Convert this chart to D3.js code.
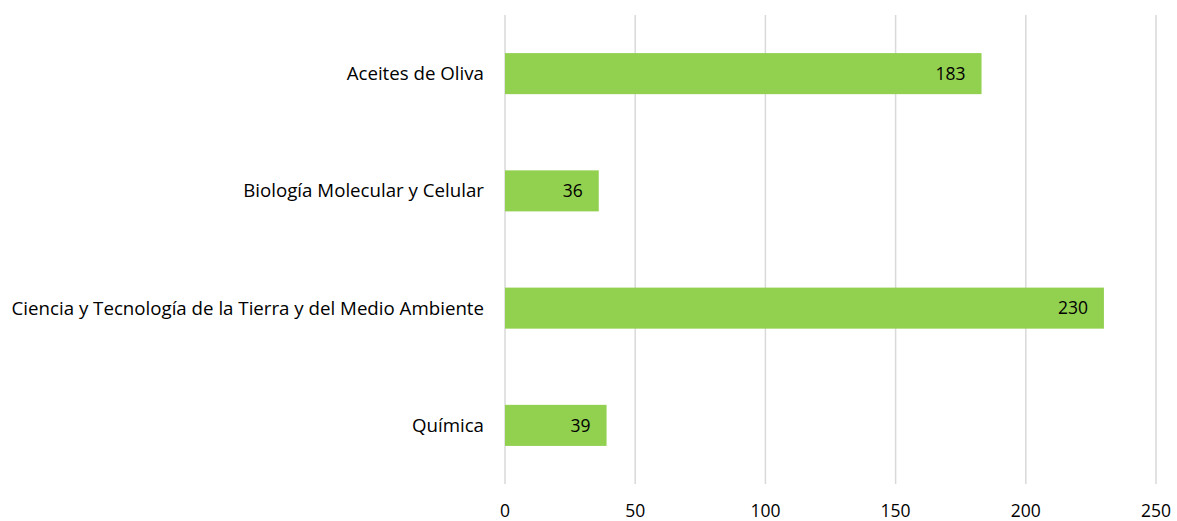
<!DOCTYPE html>
<html>
<head>
<meta charset="utf-8">
<script src="https://cdn.jsdelivr.net/npm/d3@7"></script>
<style>
  body { margin: 0; background: #fff; }
  text { font-family: "Open Sans", "Noto Sans", sans-serif; fill: #000; }
</style>
</head>
<body>
<div id="chart"></div>
<script>
// data
const categories = ["Aceites de Oliva", "Biología Molecular y Celular", "Ciencia y Tecnología de la Tierra y del Medio Ambiente", "Química"];
const values = [183, 36, 230, 39];
const xTicks = [0, 50, 100, 150, 200, 250];

const width = 1177, height = 521,
      margin = ({ top: 15, right: 21, bottom: 37, left: 505 });

const svg = d3.select("#chart")
  .append("svg")
  .attr("width", width)
  .attr("height", height);

let x = d3.scaleLinear()
    .domain([0, 250])
    .range([margin.left, width - margin.right]);

let y = d3.scaleBand()
    .domain(categories)
    .range([margin.top, height - margin.bottom])
    .paddingInner(0.65)
    .paddingOuter(0.325);

// gridlines
svg.append("g")
  .selectAll("line")
  .data(xTicks)
  .join("line")
    .attr("x1", d => x(d))
    .attr("x2", d => x(d))
    .attr("y1", margin.top)
    .attr("y2", height - margin.bottom)
    .attr("stroke", "#d9d9d9")
    .attr("stroke-width", 1.5);

// x tick labels
svg.append("g")
  .selectAll("text")
  .data(xTicks)
  .join("text")
    .attr("x", d => x(d))
    .attr("y", 511)
    .attr("dy", "0.35em")
    .attr("text-anchor", "middle")
    .attr("font-size", 17.5)
    .text(d => d);

// category labels
svg.append("g")
  .selectAll("text")
  .data(categories)
  .join("text")
    .attr("x", margin.left - 21)
    .attr("y", d => y(d) + y.bandwidth() / 2)
    .attr("dy", "0.35em")
    .attr("text-anchor", "end")
    .attr("font-size", 18.7)
    .text(d => d);

// bars
svg.append("g")
  .selectAll("rect")
  .data(values)
  .join("rect")
    .attr("x", x(0))
    .attr("y", (d, i) => y(categories[i]))
    .attr("width", d => x(d) - x(0))
    .attr("height", y.bandwidth())
    .attr("fill", "#92d050");

// value labels
svg.append("g")
  .selectAll("text")
  .data(values)
  .join("text")
    .attr("x", d => x(d) - 16)
    .attr("y", (d, i) => y(categories[i]) + y.bandwidth() / 2)
    .attr("dy", "0.35em")
    .attr("text-anchor", "end")
    .attr("font-size", 17.5)
    .text(d => d);
</script>
</body>
</html>
